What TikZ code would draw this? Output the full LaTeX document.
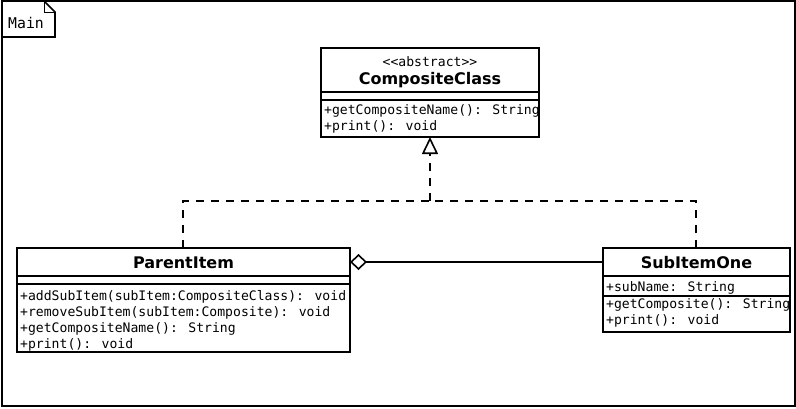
\documentclass[tikz,border=0pt]{standalone}
\usepackage{fontspec}
\setmainfont{DejaVu Sans}
\newfontfamily\monof{DejaVu Sans Mono}
\usetikzlibrary{arrows.meta}
\tikzset{
  comp/.style={draw, line width=1.6pt, rectangle, inner sep=0pt, outer sep=0pt, fill=white},
  mem/.style={font=\monof\fontsize{13.1}{16}\selectfont, anchor=base west, inner sep=0pt},
  cname/.style={font=\bfseries\fontsize{16}{19}\selectfont, anchor=base, inner sep=0pt},
  dsh/.style={line width=1.6pt, dash pattern=on 8pt off 7pt},
  conn/.style={line width=1.6pt},
}
\begin{document}
\begin{tikzpicture}[x=1pt,y=-1pt]
\useasboundingbox (0,0) rectangle (796,408);
\fill[white] (0,0) rectangle (796,408);
% frame
\draw[line width=1.6pt] (2,1) rectangle (795,406);
\draw[line width=1.6pt, fill=white] (2,1) -- (44,1) -- (55,12) -- (55,37) -- (2,37) -- cycle;
\draw[line width=1pt] (44,1) -- (44,12) -- (55,12);
\node[font=\monof\fontsize{14.8}{16}\selectfont, anchor=base west, inner sep=0pt] (mainlbl) at (8,28) {Main};

% CompositeClass
\node[comp, minimum width=218, minimum height=44, anchor=north west] (ccn) at (321,48) {};
\node[comp, minimum width=218, minimum height=8, anchor=north] (cca) at (ccn.south) {};
\node[comp, minimum width=218, minimum height=37, anchor=north] (ccm) at (cca.south) {};
\node[font=\monof\fontsize{13.1}{16}\selectfont, anchor=base, inner sep=0pt] (st) at (430,66.5) {<{}<abstract>{}>};
\node[cname] (nm) at (430,84) {CompositeClass};
\node[mem] (cc1) at (324,114) {+getCompositeName(): String};
\node[mem] (cc2) at (324,130) {+print(): void};

% ParentItem
\node[comp, minimum width=333, minimum height=28, anchor=north west] (pin) at (17,248) {};
\node[comp, minimum width=333, minimum height=8, anchor=north] (pia) at (pin.south) {};
\node[comp, minimum width=333, minimum height=68, anchor=north] (pim) at (pia.south) {};
\node[cname] (pinm) at (183.5,268) {ParentItem};
\node[mem] (pi1) at (20,300) {+addSubItem(subItem:CompositeClass): void};
\node[mem] (pi2) at (20,316) {+removeSubItem(subItem:Composite): void};
\node[mem] (pi3) at (20,332) {+getCompositeName(): String};
\node[mem] (pi4) at (20,348) {+print(): void};

% SubItemOne
\node[comp, minimum width=187, minimum height=28, anchor=north west] (sin) at (603,248) {};
\node[comp, minimum width=187, minimum height=20, anchor=north] (sia) at (sin.south) {};
\node[comp, minimum width=187, minimum height=36, anchor=north] (sim) at (sia.south) {};
\node[cname] (sinm) at (696.5,268) {SubItemOne};
\node[mem] (si1) at (606,291) {+subName: String};
\node[mem] (si2) at (606,308) {+getComposite(): String};
\node[mem] (si3) at (606,324) {+print(): void};

% realization
\coordinate (j) at (430,201);
\draw[dsh] ([xshift=-0.5pt]pin.north) |- (j);
\draw[dsh] ([xshift=-0.5pt]sin.north) |- (j);
\draw[dsh, -{Triangle[open, length=17pt, width=16pt, line width=1.6pt]}] (j) -- (ccm.south);

% aggregation
\draw[conn, -{Diamond[open, length=17pt, width=16pt, line width=1.6pt]}] (sin.west) -- (pin.east);
\end{tikzpicture}
\end{document}
